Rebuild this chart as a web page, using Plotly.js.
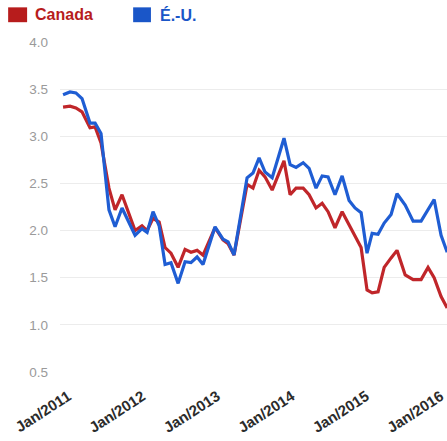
<!DOCTYPE html>
<html>
<head>
<meta charset="utf-8">
<script src="https://cdn.plot.ly/plotly-3.0.1.min.js"></script>
<style>html,body{margin:0;padding:0;background:#fff;}#chart{width:447px;height:441px;}</style>
</head>
<body>
<div id="chart"></div>
<script>
const dates = ["2011-01-01","2011-02-04","2011-03-05","2011-04-04","2011-05-13","2011-06-07","2011-07-06","2011-08-14","2011-09-13","2011-10-17","2011-12-20",
"2012-01-23","2012-02-17","2012-03-17","2012-04-16","2012-05-15","2012-06-13","2012-07-18","2012-08-21","2012-09-19","2012-10-19","2012-11-17",
"2013-01-15","2013-02-23","2013-03-20","2013-04-18","2013-06-21","2013-07-20","2013-08-19","2013-09-17","2013-10-22","2013-12-19",
"2014-01-18","2014-02-16","2014-03-23","2014-04-21","2014-05-25","2014-06-24","2014-07-23","2014-08-26","2014-09-30","2014-11-03","2014-12-02",
"2015-01-01","2015-01-30","2015-02-24","2015-03-25","2015-04-24","2015-05-28","2015-06-26","2015-08-05","2015-09-13","2015-10-22","2015-11-25","2015-12-25",
"2016-01-28","2016-02-27"];
const canada = [3.31,3.32,3.30,3.26,3.09,3.10,2.93,2.45,2.22,2.38,2.00,
2.05,2.00,2.13,2.09,1.82,1.76,1.61,1.80,1.77,1.79,1.74,
2.03,1.90,1.86,1.74,2.49,2.45,2.64,2.57,2.43,2.74,
2.38,2.45,2.45,2.38,2.24,2.29,2.20,2.03,2.20,2.06,1.95,
1.82,1.37,1.34,1.35,1.61,1.71,1.79,1.53,1.48,1.48,1.61,1.50,
1.30,1.18];
const usa = [3.44,3.47,3.46,3.40,3.14,3.14,3.03,2.22,2.04,2.24,1.95,
2.02,1.98,2.20,2.05,1.64,1.66,1.44,1.67,1.66,1.72,1.64,
2.04,1.91,1.88,1.74,2.56,2.61,2.77,2.62,2.56,2.98,
2.70,2.67,2.72,2.66,2.45,2.58,2.57,2.38,2.58,2.32,2.24,
2.19,1.76,1.97,1.96,2.08,2.17,2.39,2.27,2.10,2.10,2.22,2.33,
1.95,1.77];
const seriesNames = ["Canada","É.-U."];
const yTicks = [0.5,1.0,1.5,2.0,2.5,3.0,3.5,4.0];

const RED = "#c0262a", BLUE = "#1f5dd3";
const FONT = "Liberation Sans, Arial, sans-serif";

const traces = [
  {x: dates, y: canada, name: seriesNames[0], type: "scatter", mode: "lines",
   line: {color: RED, width: 3.2}, showlegend: false},
  {x: dates, y: usa, name: seriesNames[1], type: "scatter", mode: "lines",
   line: {color: BLUE, width: 3.2}, showlegend: false}
];

const layout = {
  width: 447, height: 441,
  margin: {l: 60, r: 0, t: 42, b: 69},
  paper_bgcolor: "#fff", plot_bgcolor: "#fff",
  font: {family: FONT},
  xaxis: {
    type: "date",
    range: ["2010-12-17", "2016-02-26"],
    tick0: "2011-01-01", dtick: "M12",
    tickformat: "%b/%Y",
    tickangle: -33,
    tickfont: {family: FONT, size: 15, color: "#2b2b2b", weight: "bold"},
    showgrid: false, zeroline: false, showline: false, ticks: "",
    ticklabelstandoff: 12,
    ticklabelshift: 5,
    ticklabeloverflow: "allow"
  },
  yaxis: {
    range: [0.5, 4.0],
    tickvals: yTicks,
    ticktext: yTicks.map(v => v.toFixed(1)),
    tickfont: {family: FONT, size: 13.5, color: "#9a9a9a"},
    showgrid: true, gridcolor: "#ececec", gridwidth: 1,
    zeroline: false, showline: false, ticks: "",
    ticklabelstandoff: 11
  },
  shapes: [
    {type: "rect", xref: "paper", yref: "paper", x0: -0.134, x1: -0.085, y0: 1.060, y1: 1.105,
     fillcolor: "#b71c1c", line: {width: 0}},
    {type: "rect", xref: "paper", yref: "paper", x0: 0.189, x1: 0.235, y0: 1.060, y1: 1.105,
     fillcolor: "#1a56c8", line: {width: 0}}
  ],
  annotations: [
    {xref: "paper", yref: "paper", x: -0.070, y: 1.083, xanchor: "left", yanchor: "middle",
     text: seriesNames[0], showarrow: false,
     font: {family: FONT, size: 16, color: "#b71c1c", weight: "bold"}},
    {xref: "paper", yref: "paper", x: 0.253, y: 1.083, xanchor: "left", yanchor: "middle",
     text: seriesNames[1], showarrow: false,
     font: {family: FONT, size: 16, color: "#1a56c8", weight: "bold"}}
  ]
};

Plotly.newPlot("chart", traces, layout, {displayModeBar: false, staticPlot: true});
</script>
</body>
</html>
